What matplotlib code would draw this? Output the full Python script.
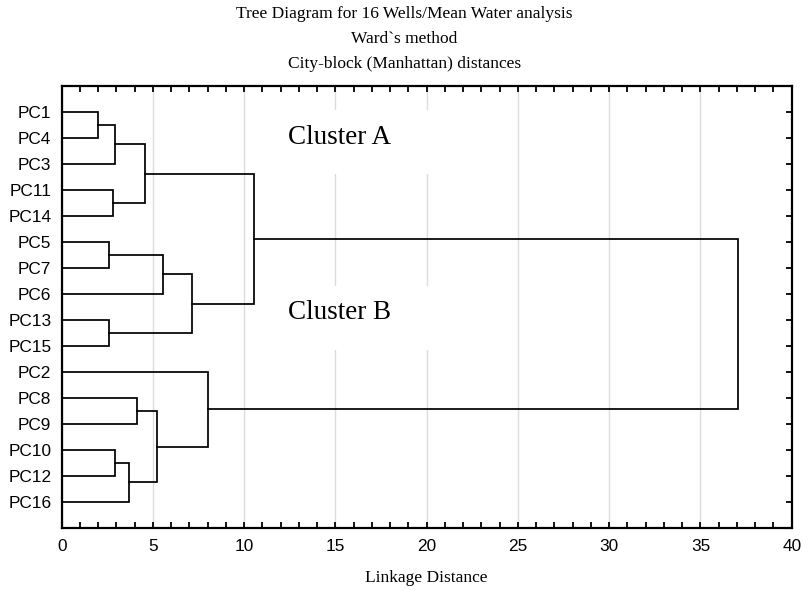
import matplotlib
matplotlib.use("Agg")
import matplotlib.pyplot as plt
from matplotlib.patches import Rectangle
from matplotlib.ticker import MultipleLocator

# ---- data ----
leaves = ["PC1", "PC4", "PC3", "PC11", "PC14", "PC5", "PC7", "PC6",
          "PC13", "PC15", "PC2", "PC8", "PC9", "PC10", "PC12", "PC16"]
# merges: (left node, right node, linkage distance); new node ids start at 16
merge_left = [0, 16, 3, 17, 5, 20, 8, 21, 19, 11, 13, 26, 25, 10, 24]
merge_right = [1, 2, 4, 18, 6, 7, 9, 22, 23, 12, 14, 15, 27, 28, 29]
merge_height = [2.0, 2.94, 2.81, 4.55, 2.58, 5.57, 2.61, 7.12, 10.54,
                4.11, 2.92, 3.67, 5.24, 8.02, 37.04]
xticks = [0, 5, 10, 15, 20, 25, 30, 35, 40]
title_lines = ["Tree Diagram for 16 Wells/Mean Water analysis",
               "Ward`s method",
               "City-block (Manhattan) distances"]
cluster_labels = ["Cluster A", "Cluster B"]

serif = ["Liberation Serif", "DejaVu Serif"]
sans = ["Liberation Sans", "DejaVu Sans"]

fig = plt.figure(figsize=(8.04, 5.91), dpi=100)
ax = fig.add_axes([61.7 / 804, 1 - 528 / 591, (791.7 - 61.7) / 804, (528 - 85.7) / 591])

# node positions
ypos = {i: i + 1 for i in range(len(leaves))}
xpos = {i: 0.0 for i in range(len(leaves))}
lw = 1.25
for k, (a, b, h) in enumerate(zip(merge_left, merge_right, merge_height)):
    nid = len(leaves) + k
    ya, yb = ypos[a], ypos[b]
    ax.plot([xpos[a], h, h, xpos[b]], [ya, ya, yb, yb], color="black",
            lw=lw, zorder=3, solid_joinstyle="miter")
    ypos[nid] = (ya + yb) / 2
    xpos[nid] = h

ax.set_xlim(0, 40)
ax.set_ylim(len(leaves) + 1, 0)
ax.set_xticks(xticks)
ax.xaxis.set_minor_locator(MultipleLocator(1))
ax.set_yticks(range(1, len(leaves) + 1))
ax.set_yticklabels(leaves)

for lab in ax.get_xticklabels() + ax.get_yticklabels():
    lab.set_family(sans)
    lab.set_fontsize(12.4)

ax.tick_params(axis="x", which="both", direction="in", top=True, bottom=True,
               length=4, width=1.3, pad=8)
ax.tick_params(axis="y", which="major", direction="in", left=False, right=True,
               length=4, width=1.3, pad=7.5)
for s in ax.spines.values():
    s.set_linewidth(1.6)

ax.grid(axis="x", color="#dcdcdc", lw=1.0, zorder=0)
ax.set_axisbelow(True)

# cluster labels with white boxes hiding the grid
for lab, yc, (y0, y1) in zip(cluster_labels, [2.0, 8.7], [(0.94, 3.4), (7.7, 10.16)]):
    ax.add_patch(Rectangle((10.3, y0), 14.2, y1 - y0, facecolor="white",
                           edgecolor="none", zorder=1))
    ax.text(12.4, yc, lab, family=serif, fontsize=19.5, ha="left",
            va="center", zorder=4)

for t, yy in zip(title_lines, [14, 39, 64]):
    fig.text(0.503, 1 - yy / 591, t, family=serif, fontsize=12.5,
             ha="center", va="center")

fig.text((61.7 + 791.7) / 2 / 804, 1 - 578 / 591, "Linkage Distance",
         family=serif, fontsize=12.5, ha="center", va="center")

fig.savefig("out.png", dpi=100, facecolor="white")
